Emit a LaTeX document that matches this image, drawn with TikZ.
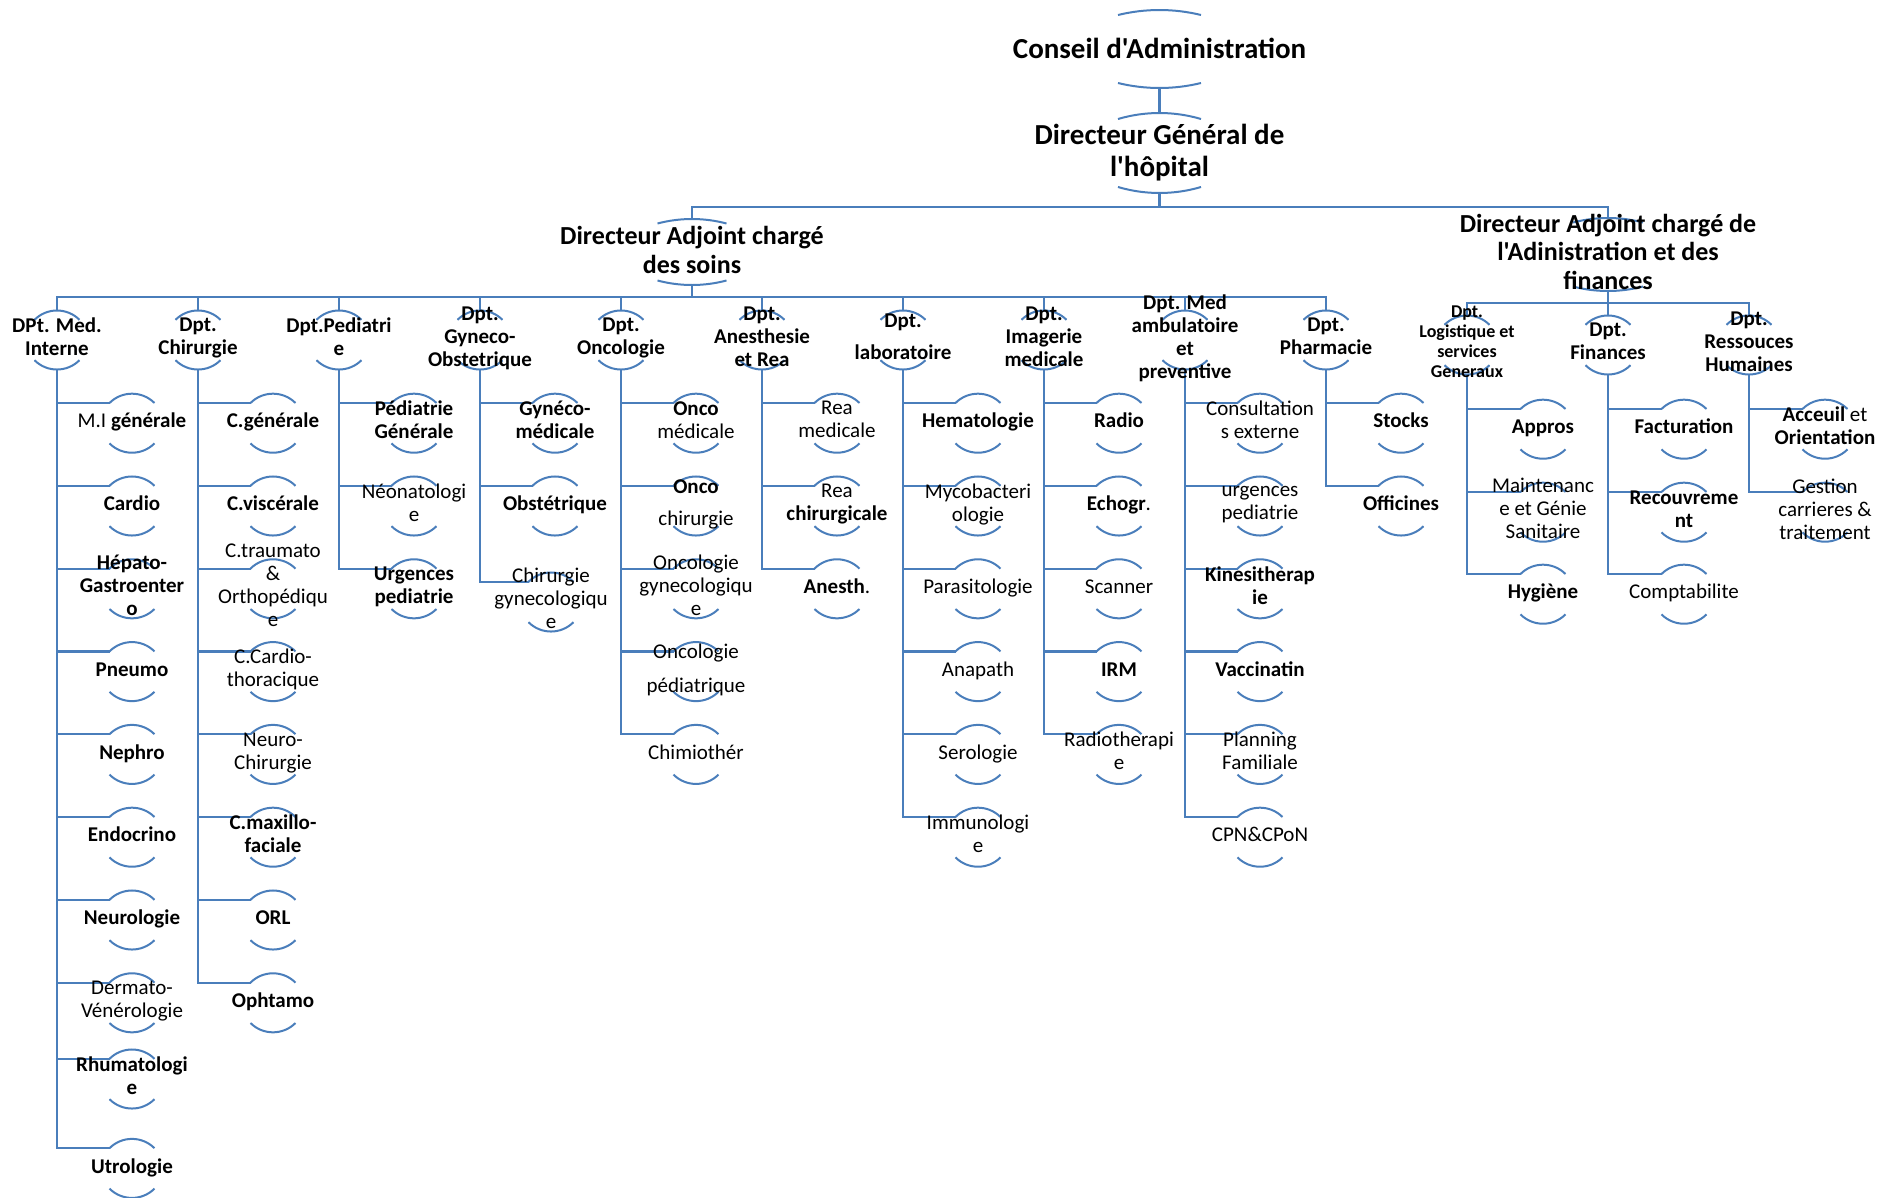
\documentclass[tikz,border=0pt]{standalone}
\usepackage{fontspec}
\setmainfont{Carlito}[Ligatures=TeXOff]
\pgfdeclarelayer{bg}
\pgfsetlayers{bg,main}
\definecolor{lc}{RGB}{74,126,187}
\tikzset{
  ln/.style={draw=lc, line width=2.2pt},
  arcl/.style={draw=lc, line width=2pt},
  box/.style={rectangle, inner sep=0pt, outer sep=0pt, minimum width=45pt, minimum height=59pt},
  txt/.style={font=\fontsize{21}{23}\selectfont, align=center, inner sep=0pt,
    execute at begin node=\strut, execute at end node=\strut},
  txtb/.style={txt, font=\fontsize{21}{23}\selectfont\bfseries},
  tsmall/.style={txt, font=\fontsize{18}{20}\selectfont\bfseries},
  ttop/.style={txt, font=\fontsize{29}{32}\selectfont\bfseries},
  tadj/.style={txt, font=\fontsize{26}{28.5}\selectfont\bfseries},
}
\newcommand{\circarcs}[1]{%
  \draw[arcl] (#1.north west) ++(0,-9.3) arc[start angle=135,end angle=45,radius=31.8pt];
  \draw[arcl] (#1.south west) ++(0,9.3) arc[start angle=225,end angle=315,radius=31.8pt];}
\newcommand{\orgnode}[4][txt]{%
  \node[box] (#2) at (#3) {};
  \circarcs{#2}
  \node[#1] (#2-t) at (#3) {#4};}
\newcommand{\flatarcs}[3]{%
  \pgfmathsetmacro\rr{(#2*#2+#3*#3)/(2*#3)}%
  \pgfmathsetmacro\th{asin(#2/\rr)}%
  \draw[arcl] (#1.north west) ++(0,-#3) arc[start angle={90+\th},end angle={90-\th},radius=\rr pt];
  \draw[arcl] (#1.south west) ++(0,#3) arc[start angle={270-\th},end angle={270+\th},radius=\rr pt];}
\newcommand{\branch}[2]{\draw[ln] (#1.south) |- ([yshift=-9.3pt]#2.north west);}
\begin{document}
\begin{tikzpicture}[x=1pt,y=1pt]
\useasboundingbox (0,0) rectangle (1898,-1197);
% ---------- top levels ----------
\node[box, minimum width=83pt, minimum height=78pt] (ca) at (1159.5,-49) {};
\flatarcs{ca}{41.5}{5}
\node[ttop] (ca-t) at (1159.5,-51.6) {Conseil d'Administration};
\node[box, minimum width=83pt, minimum height=80pt] (dg) at (1159.5,-153) {};
\flatarcs{dg}{41.5}{6}
\node[ttop] (dg-t) at (1159.5,-155.3) {Directeur Général de\\l'hôpital};
\node[box, minimum width=69pt, minimum height=66pt] (ads) at (692,-252) {};
\flatarcs{ads}{34.5}{4.5}
\node[tadj] (ads-t) at (692,-254) {Directeur Adjoint chargé\\des soins};
\node[box, minimum width=70pt, minimum height=73pt] (adf) at (1608,-254.5) {};
\flatarcs{adf}{35}{4.5}
\node[tadj] (adf-t) at (1608,-256) {Directeur Adjoint chargé de\\l'Adinistration et des\\finances};
% ---------- departments (soins) ----------
\orgnode[txtb]{mi}{57,-340}{DPt. Med.\\Interne}
\orgnode[txtb]{ch}{198,-340}{Dpt.\\Chirurgie}
\orgnode[txtb]{pe}{339,-340}{Dpt.Pediatri\\e}
\orgnode[txtb]{gy}{480,-340}{Dpt.\\Gyneco-\\Obstetrique}
\orgnode[txtb]{on}{621,-340}{Dpt.\\Oncologie}
\orgnode[txtb]{an}{762,-340}{Dpt.\\Anesthesie\\et Rea}
\orgnode[txtb]{la}{903,-340}{Dpt.\\[9pt]laboratoire}
\orgnode[txtb]{im}{1044,-340}{Dpt.\\Imagerie\\medicale}
\orgnode[txtb]{ma}{1185,-340}{Dpt. Med\\ambulatoire\\et\\preventive}
\orgnode[txtb]{ph}{1326,-340}{Dpt.\\Pharmacie}
% ---------- departments (finances) ----------
\orgnode[tsmall]{lg}{1467,-345}{Dpt.\\Logistique et\\services\\Generaux}
\orgnode[txtb]{fi}{1608,-345}{Dpt.\\Finances}
\orgnode[txtb]{rh}{1749,-345}{Dpt.\\Ressouces\\Humaines}
% ---------- Med interne ----------
\orgnode{mi1}{132,-423.2}{M.I \textbf{générale}}
\orgnode[txtb]{mi2}{132,-506}{Cardio}
\orgnode[txtb]{mi3}{132,-588.8}{Hépato-\\Gastroenter\\o}
\orgnode[txtb]{mi4}{132,-671.6}{Pneumo}
\orgnode[txtb]{mi5}{132,-754.4}{Nephro}
\orgnode[txtb]{mi6}{132,-837.2}{Endocrino}
\orgnode[txtb]{mi7}{132,-920}{Neurologie}
\orgnode{mi8}{132,-1002.8}{Dermato-\\Vénérologie}
\orgnode[txtb]{mi9}{132,-1079}{Rhumatologi\\e}
\orgnode[txtb]{mi10}{132,-1168.4}{Utrologie}
% ---------- Chirurgie ----------
\orgnode[txtb]{ch1}{273,-423.2}{C.générale}
\orgnode[txtb]{ch2}{273,-506}{C.viscérale}
\orgnode{ch3}{273,-588.8}{C.traumato\\\&\\Orthopédiqu\\e}
\orgnode{ch4}{273,-671.6}{C.Cardio-\\thoracique}
\orgnode{ch5}{273,-754.4}{Neuro-\\Chirurgie}
\orgnode[txtb]{ch6}{273,-837.2}{C.maxillo-\\faciale}
\orgnode[txtb]{ch7}{273,-920}{ORL}
\orgnode[txtb]{ch8}{273,-1002.8}{Ophtamo}
% ---------- Pediatrie ----------
\orgnode[txtb]{pe1}{414,-423.2}{Pédiatrie\\Générale}
\orgnode{pe2}{414,-506}{Néonatologi\\e}
\orgnode[txtb]{pe3}{414,-588.8}{Urgences\\pediatrie}
% ---------- Gyneco ----------
\orgnode[txtb]{gy1}{555,-423.2}{Gynéco-\\médicale}
\orgnode[txtb]{gy2}{555,-506}{Obstétrique}
\orgnode{gy3}{551,-602}{Chirurgie\\gynecologiqu\\e}
% ---------- Oncologie ----------
\orgnode{on1}{696,-423.2}{\textbf{Onco}\\médicale}
\orgnode{on2}{696,-506}{\textbf{Onco}\\[9pt]chirurgie}
\orgnode{on3}{696,-588.8}{Oncologie\\gynecologiqu\\e}
\orgnode{on4}{696,-671.6}{Oncologie\\[11pt]pédiatrique}
\orgnode{on5}{696,-754.4}{Chimiothér}
% ---------- Anesthesie ----------
\orgnode{an1}{837,-423.2}{Rea\\medicale}
\orgnode{an2}{837,-506}{Rea\\\textbf{chirurgicale}}
\orgnode{an3}{837,-588.8}{\textbf{Anesth}.}
% ---------- Laboratoire ----------
\orgnode[txtb]{la1}{978,-423.2}{Hematologie}
\orgnode{la2}{978,-506}{Mycobacteri\\ologie}
\orgnode{la3}{978,-588.8}{Parasitologie}
\orgnode{la4}{978,-671.6}{Anapath}
\orgnode{la5}{978,-754.4}{Serologie}
\orgnode{la6}{978,-837.2}{Immunologi\\e}
% ---------- Imagerie ----------
\orgnode[txtb]{im1}{1119,-423.2}{Radio}
\orgnode{im2}{1119,-506}{\textbf{Echogr}.}
\orgnode{im3}{1119,-588.8}{Scanner}
\orgnode[txtb]{im4}{1119,-671.6}{IRM}
\orgnode{im5}{1119,-754.4}{Radiotherapi\\e}
% ---------- Med ambulatoire ----------
\orgnode{ma1}{1260,-423.2}{Consultation\\s externe}
\orgnode{ma2}{1260,-506}{urgences\\pediatrie}
\orgnode[txtb]{ma3}{1260,-588.8}{Kinesitherap\\ie}
\orgnode[txtb]{ma4}{1260,-671.6}{Vaccinatin}
\orgnode{ma5}{1260,-754.4}{Planning\\Familiale}
\orgnode{ma6}{1260,-837.2}{CPN\&CPoN}
% ---------- Pharmacie ----------
\orgnode[txtb]{ph1}{1401,-423.2}{Stocks}
\orgnode[txtb]{ph2}{1401,-506}{Officines}
% ---------- Logistique ----------
\orgnode[txtb]{lg1}{1543,-429.2}{Appros}
\orgnode{lg2}{1543,-512.2}{Maintenanc\\e et Génie\\Sanitaire}
\orgnode[txtb]{lg3}{1543,-594.2}{Hygiène}
% ---------- Finances ----------
\orgnode[txtb]{fi1}{1684,-429.2}{Facturation}
\orgnode[txtb]{fi2}{1684,-512.2}{Recouvreme\\nt}
\orgnode{fi3}{1684,-594.2}{Comptabilite}
% ---------- RH ----------
\orgnode{rh1}{1825,-429.2}{\textbf{Acceuil} et\\\textbf{Orientation}}
\orgnode{rh2}{1825,-512.2}{Gestion\\carrieres \&\\traitement}
% ---------- connectors ----------
\begin{pgfonlayer}{bg}
\draw[ln] (ca.south) -- (dg.north);
\coordinate (b0) at (1159.5,-207);
\draw[ln] (dg.south) -- (b0);
\draw[ln] (b0) -| (ads.north);
\draw[ln] (b0) -| (adf.north);
\coordinate (b1) at (692,-297);
\draw[ln] (ads.south) -- (b1);
\foreach \d in {mi,ch,pe,gy,on,an,la,im,ma,ph} {\draw[ln] (b1) -| (\d.north);}
\coordinate (b2) at (1608,-303);
\draw[ln] (adf.south) -- (b2);
\foreach \d in {lg,fi,rh} {\draw[ln] (b2) -| (\d.north);}
\foreach \i in {1,...,10} {\branch{mi}{mi\i}}
\foreach \i in {1,...,8} {\branch{ch}{ch\i}}
\foreach \i in {1,2,3} {\branch{pe}{pe\i}}
\foreach \i in {1,2,3} {\branch{gy}{gy\i}}
\foreach \i in {1,...,5} {\branch{on}{on\i}}
\foreach \i in {1,2,3} {\branch{an}{an\i}}
\foreach \i in {1,...,6} {\branch{la}{la\i}}
\foreach \i in {1,...,5} {\branch{im}{im\i}}
\foreach \i in {1,...,6} {\branch{ma}{ma\i}}
\foreach \i in {1,2} {\branch{ph}{ph\i}}
\foreach \i in {1,2,3} {\branch{lg}{lg\i}}
\foreach \i in {1,2,3} {\branch{fi}{fi\i}}
\foreach \i in {1,2} {\branch{rh}{rh\i}}
\end{pgfonlayer}
\end{tikzpicture}
\end{document}
